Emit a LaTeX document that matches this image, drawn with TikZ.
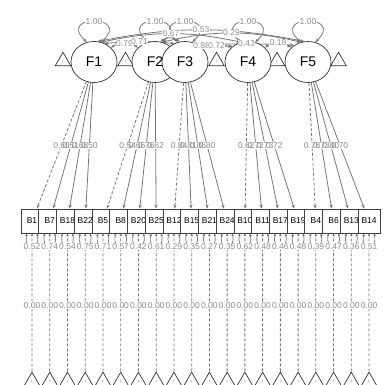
\documentclass[tikz,border=0pt]{standalone}
\usepackage{fontspec}
\setmainfont{Liberation Sans}
\usetikzlibrary{shapes.geometric,arrows.meta,backgrounds}
\definecolor{edgegray}{HTML}{777777}
\definecolor{labgray}{HTML}{8C8C8C}

\begin{document}
\begin{tikzpicture}[x=1pt,y=1pt]
\useasboundingbox (0,0) rectangle (384,385);
\tikzstyle{latent}=[ellipse, draw=black!80, fill=white, line width=0.7pt, minimum width=46pt, minimum height=41pt, inner sep=0pt, font=\fontsize{14}{14}\selectfont]
\tikzstyle{manifest}=[rectangle, draw=black!75, fill=white, line width=0.7pt, minimum width=22pt, minimum height=24pt, inner sep=0pt, font=\fontsize{8.5}{8.5}\selectfont]
\tikzstyle{icptri}=[regular polygon, regular polygon sides=3, draw=black!80, fill=white, line width=0.7pt, minimum size=18pt, inner sep=0pt, font=\fontsize{3}{3}\selectfont, text=gray]
\tikzstyle{elab}=[fill=white, inner sep=0.5pt, text=labgray, font=\fontsize{8.5}{8.5}\selectfont]
\tikzstyle{lbg}=[fill=white, inner sep=0.5pt, font=\fontsize{8.5}{8.5}\selectfont]
\tikzstyle{lab}=[inner sep=0.5pt, text=labgray, font=\fontsize{8.5}{8.5}\selectfont]
\tikzstyle{cov}=[draw=edgegray, line width=0.8pt, {Stealth[length=4pt,width=3.2pt]}-{Stealth[length=4pt,width=3.2pt]}]
\tikzstyle{resid}=[draw=edgegray, line width=0.7pt, {Stealth[length=3pt,width=2.6pt]}-{Stealth[length=3pt,width=2.6pt]}]
\tikzstyle{freeload}=[draw=edgegray, line width=0.8pt, -{Stealth[length=4pt,width=3.2pt]}]
\tikzstyle{fixload}=[freeload, dash pattern=on 3pt off 2pt]
\tikzstyle{icpt}=[draw=edgegray, line width=0.8pt, dash pattern=on 3pt off 2pt, -{Stealth[length=3pt,width=2.6pt]}]

% intercept triangles of the factors
\node[icptri] (i1) at (63,323.7) {1};
\node[icptri] (i2) at (125.5,323.7) {1};
\node[icptri] (i3) at (216.5,323.7) {1};
\node[icptri] (i4) at (277,323.7) {1};
\node[icptri] (i5) at (338.5,323.7) {1};

% factors
\node[latent] (F1) at (94,323) {F1};
\node[latent] (F2) at (155,323) {F2};
\node[latent] (F3) at (185,323) {F3};
\node[latent] (F4) at (248,323) {F4};
\node[latent] (F5) at (308,323) {F5};

% indicators, residuals and intercepts
\foreach \nm/\res [count=\i] in {B1/0.52, B7/0.74, B18/0.54, B22/0.75, B5/0.71, B8/0.57, B20/0.42, B25/0.61, B12/0.29, B15/0.35, B21/0.27, B24/0.35, B10/0.62, B11/0.48, B17/0.46, B19/0.48, B4/0.39, B6/0.47, B13/0.36, B14/0.51}{
  \node[manifest] (\nm) at ({32+17.74*(\i-1)},164) {\nm};
  \node[icptri, text=red!55!gray] (t\i) at ({32+17.74*(\i-1)},3.8) {1};
  \begin{scope}[on background layer]
    \draw[icpt] (t\i) -- node[elab, pos=0.48]{0.00} (\nm);
    \draw[resid] ([xshift=-5pt]\nm.south) .. controls +(-4,-18) and +(4,-18) .. ([xshift=5pt]\nm.south) node[elab, midway]{\res};
  \end{scope}
}

% loadings
\foreach \f/\nm/\lam/\st in {F1/B1/0.69/fixload, F1/B7/0.51/freeload, F1/B18/0.68/freeload, F1/B22/0.50/freeload,
  F2/B5/0.54/fixload, F2/B8/0.66/freeload, F2/B20/0.76/freeload, F2/B25/0.62/freeload,
  F3/B12/0.84/fixload, F3/B15/0.81/freeload, F3/B21/0.86/freeload, F3/B24/0.80/freeload,
  F4/B10/0.62/fixload, F4/B11/0.72/freeload, F4/B17/0.73/freeload, F4/B19/0.72/freeload,
  F5/B4/0.78/fixload, F5/B6/0.73/freeload, F5/B13/0.80/freeload, F5/B14/0.70/freeload}{
  \begin{scope}[on background layer]
    \draw[\st] (\f) -- node[lbg] (lm) {\phantom{\lam}} (\nm);
  \end{scope}
  \node[lab] at (lm) {\lam};
}

% factor variances
\foreach \f in {F1,F2,F3,F4,F5}{
  \begin{scope}[on background layer]
    \draw[cov] (\f.110) .. controls +(-30,28) and +(30,28) .. (\f.70) coordinate[midway] (vm);
  \end{scope}
  \node[elab] at (vm) {1.00};
}

% factor covariances
\begin{scope}[on background layer]
  \draw[cov] (F2.75) to[bend left=40] (F3.105);
\end{scope}
\foreach \a/\b/\sa/\sb/\bd/\val in {F1/F2/40/140/35/0.79, F1/F3/60/120/5/0.71, F1/F4/70/110/12/0.67,
  F1/F5/80/100/11/0.53, F2/F5/70/110/13/0.29, F2/F4/45/135/3/0.88, F3/F4/45/135/5/0.72,
  F3/F5/50/130/3/0.43, F4/F5/40/140/40/0.18}{
  \begin{scope}[on background layer]
    \draw[cov] (\a.\sa) to[bend left=\bd] coordinate[midway] (cm) (\b.\sb);
  \end{scope}
  \node[elab] at (cm) {\val};
}
\end{tikzpicture}
\end{document}
